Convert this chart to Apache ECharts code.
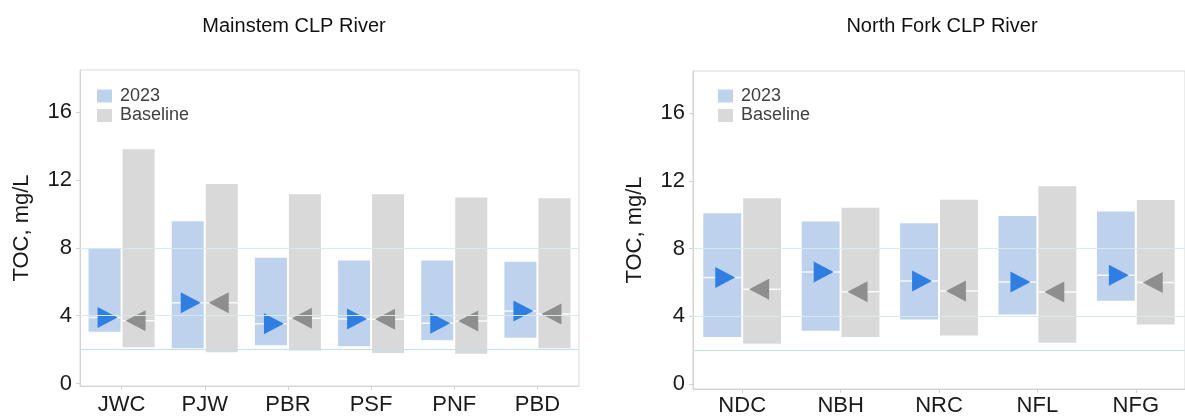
<!DOCTYPE html>
<html>
<head>
<meta charset="utf-8">
<script src="https://cdn.jsdelivr.net/npm/echarts@6/dist/echarts.min.js"></script>
<style>
html,body{margin:0;padding:0;background:#fff;}
#chart{width:1185px;height:417px;}
</style>
</head>
<body>
<div id="chart"></div>
<script>
// ---- data ----
const mainCategories = ['JWC', 'PJW', 'PBR', 'PSF', 'PNF', 'PBD'];
const main2023Low  = [3.05, 2.08, 2.25, 2.2, 2.55, 2.7];
const main2023High = [7.98, 9.57, 7.42, 7.25, 7.25, 7.19];
const main2023Mid  = [3.9, 4.77, 3.53, 3.8, 3.55, 4.28];
const mainBaseLow  = [2.14, 1.84, 1.94, 1.8, 1.76, 2.08];
const mainBaseHigh = [13.83, 11.77, 11.16, 11.16, 10.98, 10.93];
const mainBaseMid  = [3.7, 4.77, 3.85, 3.79, 3.69, 4.1];

const northCategories = ['NDC', 'NBH', 'NRC', 'NFL', 'NFG'];
const north2023Low  = [2.78, 3.15, 3.81, 4.1, 4.92];
const north2023High = [10.09, 9.6, 9.5, 9.93, 10.19];
const north2023Mid  = [6.29, 6.62, 6.09, 6.03, 6.42];
const northBaseLow  = [2.37, 2.78, 2.86, 2.43, 3.52];
const northBaseHigh = [10.98, 10.42, 10.89, 11.68, 10.87];
const northBaseMid  = [5.6, 5.45, 5.49, 5.43, 5.99];

const yTicks = [0, 4, 8, 12, 16];
const refLines = [2, 4, 8];
const seriesNames = ['2023', 'Baseline'];
const panelTitles = ['Mainstem CLP River', 'North Fork CLP River'];
const yName = 'TOC, mg/L';

// ---- styling ----
const FONT = 'Liberation Sans, Arial, sans-serif';
const BLUE_BAR = '#bed2ed';
const GRAY_BAR = '#d9d9d9';
const BLUE_TRI = '#2f7fe2';
const GRAY_TRI = '#8e8e8e';

function rows(low, high, mid) {
  return low.map((v, i) => [i, v, high[i], mid[i]]);
}

function makeRender(isBlue) {
  return function (params, api) {
    const ci = api.value(0), lo = api.value(1), hi = api.value(2), md = api.value(3);
    const band = api.size([1, 0])[0];
    const cx = api.coord([ci, 0])[0];
    const w = band * 0.385;
    const x0 = isBlue ? cx - 1 - w : cx + 1;
    const yTop = api.coord([ci, hi])[1];
    const yBot = api.coord([ci, lo])[1];
    const yMid = api.coord([ci, md])[1];
    const tw = 20, th = 21;
    const tcx = isBlue ? x0 + w / 2 + 3 : x0 + w / 2 - 3;
    const pts = isBlue
      ? [[tcx - tw / 2, yMid - th / 2], [tcx + tw / 2, yMid], [tcx - tw / 2, yMid + th / 2]]
      : [[tcx + tw / 2, yMid - th / 2], [tcx - tw / 2, yMid], [tcx + tw / 2, yMid + th / 2]];
    return {
      type: 'group',
      children: [
        { type: 'rect', shape: { x: x0, y: yTop, width: w, height: yBot - yTop },
          style: { fill: isBlue ? BLUE_BAR : GRAY_BAR } },
        { type: 'rect', shape: { x: x0, y: yMid - 0.75, width: w, height: 1.5 },
          style: { fill: 'rgba(255,255,255,0.85)' } },
        { type: 'polygon', shape: { points: pts },
          style: { fill: isBlue ? BLUE_TRI : GRAY_TRI } }
      ]
    };
  };
}

function rangeSeries(name, isBlue, idx, data) {
  return {
    name: name, type: 'custom', xAxisIndex: idx, yAxisIndex: idx, z: 3,
    itemStyle: { color: isBlue ? BLUE_BAR : GRAY_BAR },
    renderItem: makeRender(isBlue),
    encode: { x: 0, y: [1, 2] },
    data: data
  };
}

function refSeries(idx) {
  return {
    type: 'line', xAxisIndex: idx, yAxisIndex: idx, data: [], z: 1, silent: true,
    markLine: {
      silent: true, symbol: ['none', 'none'], label: { show: false },
      animation: false,
      data: refLines.map(v => ({ yAxis: v,
        lineStyle: { color: v === 2 ? '#bfe2e2' : '#d6ebeb', width: 1, type: 'solid' } }))
    }
  };
}

function xAxisCfg(cats, idx, margin) {
  return {
    type: 'category', gridIndex: idx, data: cats,
    axisLine: { show: true, onZero: false, lineStyle: { color: '#d3d3d3' } },
    axisTick: { show: true, alignWithLabel: true, length: 4, lineStyle: { color: '#d3d3d3' } },
    axisLabel: { fontSize: 22, color: '#1a1a1a', margin: margin, fontFamily: FONT },
    splitLine: { show: false }
  };
}

function yAxisCfg(idx, min, nameGap) {
  return {
    type: 'value', gridIndex: idx, min: min, max: 18.5,
    name: yName, nameLocation: 'middle', nameRotate: 90, nameGap: nameGap,
    nameTextStyle: { fontSize: 22, color: '#1a1a1a', fontFamily: FONT },
    axisLine: { show: true, lineStyle: { color: '#d3d3d3' } },
    axisTick: { show: true, length: 4, customValues: yTicks, lineStyle: { color: '#d3d3d3' } },
    axisLabel: { fontSize: 22, color: '#1a1a1a', margin: 8, customValues: yTicks, fontFamily: FONT },
    splitLine: { show: false }
  };
}

function legendCfg(left) {
  return {
    data: seriesNames, left: left, top: 82, orient: 'vertical',
    icon: 'rect', itemWidth: 15, itemHeight: 13, itemGap: 1.5,
    selectedMode: false,
    textStyle: { fontSize: 18, lineHeight: 18, color: '#404040', padding: [0, 0, 0, 3], fontFamily: FONT }
  };
}

const chart = echarts.init(document.getElementById('chart'), null, { renderer: 'canvas' });
chart.setOption({
  animation: false,
  backgroundColor: '#ffffff',
  graphic: [
    { type: 'text', x: 294, y: 26, style: { text: panelTitles[0], fontSize: 20, fill: '#111',
      textAlign: 'center', textVerticalAlign: 'middle', fontFamily: FONT } },
    { type: 'text', x: 942, y: 26, style: { text: panelTitles[1], fontSize: 20, fill: '#111',
      textAlign: 'center', textVerticalAlign: 'middle', fontFamily: FONT } }
  ],
  legend: [legendCfg(92), legendCfg(713)],
  grid: [
    { left: 80, top: 70, width: 499, height: 316, show: true, borderColor: '#d9d9d9', borderWidth: 1, containLabel: false },
    { left: 693, top: 71, width: 506, height: 321.5, show: true, borderColor: '#d9d9d9', borderWidth: 1, containLabel: false }
  ],
  xAxis: [xAxisCfg(mainCategories, 0, 8), xAxisCfg(northCategories, 1, 6)],
  yAxis: [yAxisCfg(0, -0.15, 47), yAxisCfg(1, -0.3, 47)],
  series: [
    refSeries(0),
    refSeries(1),
    rangeSeries(seriesNames[0], true, 0, rows(main2023Low, main2023High, main2023Mid)),
    rangeSeries(seriesNames[1], false, 0, rows(mainBaseLow, mainBaseHigh, mainBaseMid)),
    rangeSeries(seriesNames[0], true, 1, rows(north2023Low, north2023High, north2023Mid)),
    rangeSeries(seriesNames[1], false, 1, rows(northBaseLow, northBaseHigh, northBaseMid))
  ]
});
</script>
</body>
</html>
